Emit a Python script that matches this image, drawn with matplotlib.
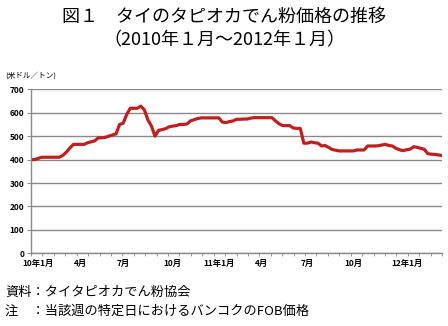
import numpy as np
import matplotlib
matplotlib.use("Agg")
import matplotlib.pyplot as plt

plt.rcParams['font.family'] = ['Noto Sans CJK JP', 'DejaVu Sans']

# 週次価格（米ドル／トン）、2010年1月第1週から
price = [
    400, 400, 405, 410, 410, 410, 410, 410, 410, 418,
    432, 450, 465, 465, 465, 465, 472, 476, 480, 493,
    493, 495, 500, 505, 510, 550, 555, 592, 619, 619,
    619, 628, 612, 569, 543, 500, 525, 528, 532, 540,
    543, 545, 550, 550, 552, 565, 570, 575, 578, 578,
    578, 578, 578, 578, 560, 558, 562, 565, 572, 572,
    573, 573, 577, 579, 579, 579, 579, 579, 579, 565,
    553, 545, 545, 545, 535, 533, 533, 470, 470, 475,
    472, 470, 458, 460, 452, 443, 440, 437, 437, 437,
    437, 437, 441, 441, 441, 458, 458, 458, 459, 462,
    465, 460, 458, 448, 442, 438, 442, 444, 455, 452,
    448, 444, 425, 423, 422, 420, 417,
]
# 目盛ラベルを付ける週
label_weeks = [2, 14, 26, 40, 53, 65, 78, 91, 106]
labels = ["10年1月", "4月", "7月", "10月", "11年1月", "4月", "7月", "10月", "12年1月"]

weeks = np.arange(len(price))

fig = plt.figure(figsize=(4.48, 3.26), dpi=100)
ax = fig.add_axes([31 / 448, 1 - 253.3 / 326, 411 / 448, 164 / 326])

ax.plot(weeks, price, color="#BE2020", lw=2.3, solid_joinstyle="round")

ax.set_xlim(0, len(price) - 1)
ax.set_ylim(0, 700)
ax.set_yticks(range(0, 701, 100))
ax.yaxis.grid(True, color="#8a8a8a", lw=1)
ax.set_axisbelow(True)

for s in ["top", "right"]:
    ax.spines[s].set_visible(False)
for s in ["left", "bottom"]:
    ax.spines[s].set_color("#8a8a8a")
    ax.spines[s].set_linewidth(1)

ax.set_xticks(label_weeks)
ax.set_xticklabels(labels)
ax.set_xticks(np.linspace(0, len(price) - 1, 37), minor=True)
ax.tick_params(axis="x", which="major", length=0, pad=4, labelsize=6)
ax.tick_params(axis="x", which="minor", length=2, color="#8a8a8a")
ax.tick_params(axis="y", length=3, color="#8a8a8a", pad=2, labelsize=6)
for t in ax.get_xticklabels() + ax.get_yticklabels():
    t.set_fontweight("bold")

fig.text(0.5, 1 - 17 / 326, "図１　タイのタピオカでん粉価格の推移",
         ha="center", va="center", fontsize=13)
fig.text(0.5, 1 - 40 / 326, "（2010年１月～2012年１月）",
         ha="center", va="center", fontsize=13)
fig.text(5 / 448, 1 - 76 / 326, "(米ドル／トン)", ha="left", va="center", fontsize=5.5)

fig.text(5 / 448, 1 - 292 / 326, "資料：タイタピオカでん粉協会",
         ha="left", va="center", fontsize=9.5)
fig.text(5 / 448, 1 - 311 / 326, "注　：当該週の特定日におけるバンコクのFOB価格",
         ha="left", va="center", fontsize=9.5)

fig.savefig("out.png", dpi=100)
